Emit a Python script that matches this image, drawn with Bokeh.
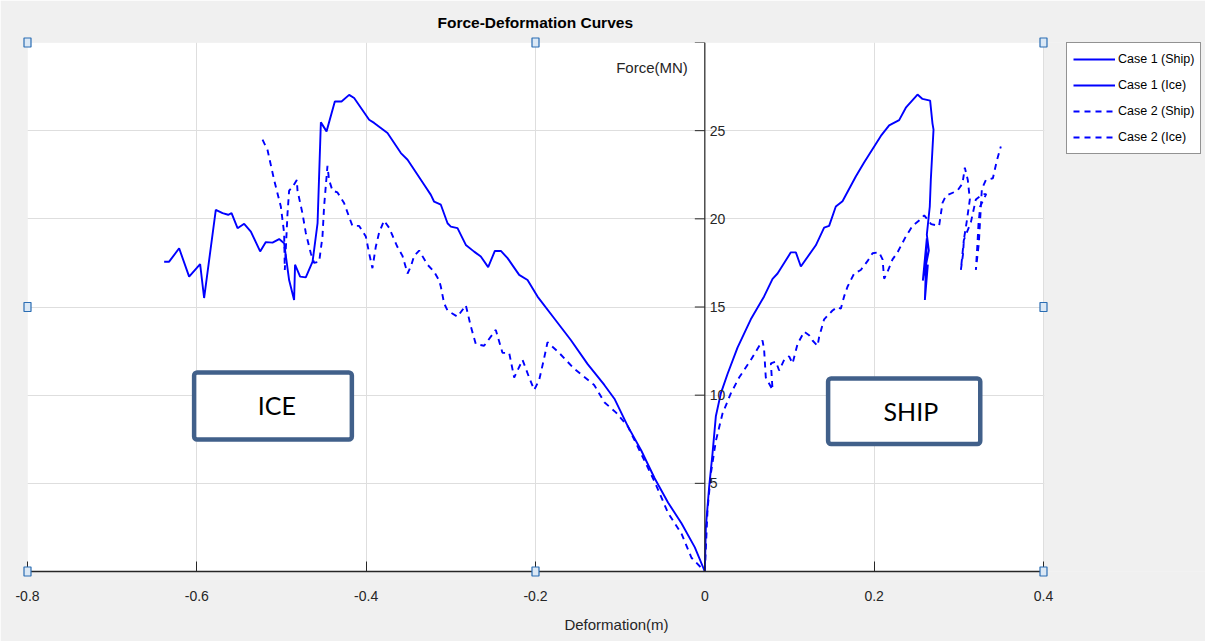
import numpy as np
from bokeh.plotting import figure
from bokeh.models import (Range1d, FixedTicker, Legend, LegendItem, Label, BoxAnnotation,
                          Span, Grid)
from bokeh.core.properties import value
from bokeh.embed import file_html
from bokeh.resources import INLINE

# ---------------- data ----------------
X_TICKS = [-0.8, -0.6, -0.4, -0.2, 0, 0.2, 0.4]
X_TICK_LABELS = ["-0.8", "-0.6", "-0.4", "-0.2", "0", "0.2", "0.4"]
Y_TICKS = [0, 5, 10, 15, 20, 25, 30]
Y_TICK_LABELS = ["", "5", "10", "15", "20", "25", ""]

SERIES_NAMES = ["Case 1 (Ship)", "Case 1 (Ice)", "Case 2 (Ship)", "Case 2 (Ice)"]

case1_ship_x = [0.0, 0.0012, 0.0051, 0.0091, 0.0130, 0.0189, 0.0268, 0.0386, 0.0543, 0.0700,
                0.0800, 0.0859, 0.1016, 0.1075, 0.1134, 0.1311, 0.1409, 0.1468, 0.1547, 0.1626,
                0.1783, 0.1881, 0.2079, 0.2177, 0.2295, 0.2374, 0.2512, 0.2571, 0.2661, 0.2689,
                0.2701, 0.2669, 0.2657, 0.2622, 0.2646, 0.2587, 0.2634, 0.2599, 0.2622, 0.2575,
                0.2610]
case1_ship_y = [0.0, 2.5, 4.8, 6.7, 8.8, 10.1, 11.2, 12.7, 14.3, 15.6,
                16.6, 16.9, 18.1, 18.1, 17.3, 18.5, 19.5, 19.6, 20.7, 21.0,
                22.4, 23.2, 24.7, 25.3, 25.6, 26.3, 27.05, 26.8, 26.7, 25.4,
                25.06, 22.2, 20.7, 19.1, 18.2, 16.8, 17.4, 15.4, 18.9, 16.5,
                17.7]

case1_ice_x = [-0.6386, -0.6327, -0.6209, -0.6091, -0.5961, -0.5914, -0.5776, -0.5696, -0.5630, -0.5590,
               -0.5519, -0.5441, -0.5362, -0.5252, -0.5185, -0.5106, -0.5028, -0.4969, -0.4910, -0.4851,
               -0.4840, -0.4780, -0.4713, -0.4633, -0.4574, -0.4535, -0.4468, -0.4370, -0.4291, -0.4201,
               -0.4142, -0.3965, -0.3906, -0.3748, -0.3590, -0.3511, -0.3315, -0.3236, -0.3197, -0.3118,
               -0.3039, -0.3000, -0.2921, -0.2823, -0.2725, -0.2646, -0.2559, -0.2480, -0.2409, -0.2330,
               -0.2193, -0.2094, -0.1976, -0.1780, -0.1583, -0.1384, -0.1187, -0.1068, -0.0909, -0.0751,
               -0.0593, -0.0435, -0.0276, -0.0118, 0.0]
case1_ice_y = [17.57, 17.57, 18.33, 16.72, 17.43, 15.51, 20.51, 20.32, 20.23, 20.32,
               19.47, 19.72, 19.28, 18.15, 18.68, 18.65, 18.85, 18.62, 16.53, 15.40,
               17.40, 16.72, 16.68, 17.57, 19.75, 25.47, 24.96, 26.65, 26.65, 27.03,
               26.85, 25.62, 25.44, 24.87, 23.73, 23.35, 21.93, 21.36, 20.97, 20.80,
               19.75, 19.56, 19.47, 18.52, 18.14, 17.86, 17.26, 18.18, 18.18, 17.77,
               16.82, 16.53, 15.59, 14.36, 13.13, 11.76, 10.58, 9.80, 8.23, 6.86,
               5.29, 3.91, 2.74, 1.37, 0.0]

case2_ship_x = [0.0, 0.0032, 0.0071, 0.0130, 0.0209, 0.0307, 0.0405, 0.0543, 0.0681, 0.0700,
                0.0720, 0.0800, 0.0780, 0.0839, 0.0878, 0.0937, 0.0996, 0.1036, 0.1095, 0.1173,
                0.1232, 0.1272, 0.1331, 0.1350, 0.1409, 0.1468, 0.1508, 0.1567, 0.1606, 0.1645,
                0.1685, 0.1764, 0.1842, 0.1921, 0.1981, 0.2059, 0.2099, 0.2118, 0.2158, 0.2217,
                0.2276, 0.2374, 0.2453, 0.2531, 0.2591, 0.2673, 0.2767, 0.2807, 0.2846, 0.2984,
                0.3043, 0.3071, 0.3106, 0.3130, 0.3095, 0.3059, 0.3051, 0.3024, 0.3059, 0.3142,
                0.3201, 0.3284, 0.3323, 0.3252, 0.3232, 0.3220, 0.3201, 0.3236, 0.3272, 0.3319,
                0.3402, 0.3449, 0.3496]
case2_ship_y = [0.0, 3.5, 5.55, 7.4, 8.96, 10.1, 11.0, 12.0, 13.1, 12.6,
                11.0, 10.3, 11.8, 11.9, 11.4, 12.0, 12.2, 11.8, 12.9, 13.6,
                13.4, 13.1, 12.8, 13.3, 14.3, 14.6, 14.8, 15.0, 14.9, 15.6,
                16.15, 16.9, 17.1, 17.6, 18.05, 18.1, 17.7, 16.6, 17.0, 17.7,
                18.1, 19.0, 19.6, 19.9, 20.2, 19.7, 19.6, 20.9, 21.3, 21.6,
                22.0, 22.9, 22.2, 21.1, 19.9, 18.8, 18.05, 17.1, 18.8, 19.8,
                21.1, 21.4, 21.4, 20.7, 19.7, 18.6, 17.1, 18.6, 21.7, 22.2,
                22.3, 23.3, 24.1]

case2_ice_x = [-0.5224, -0.5165, -0.5087, -0.5008, -0.4969, -0.4961, -0.4929, -0.4910, -0.4870, -0.4819,
               -0.4811, -0.4752, -0.4713, -0.4654, -0.4615, -0.4555, -0.4516, -0.4497, -0.4457, -0.4438,
               -0.4398, -0.4339, -0.4261, -0.4201, -0.4162, -0.4083, -0.4004, -0.3965, -0.3926, -0.3887,
               -0.3848, -0.3789, -0.3730, -0.3630, -0.3571, -0.3511, -0.3472, -0.3433, -0.3374, -0.3276,
               -0.3197, -0.3138, -0.3118, -0.3079, -0.3039, -0.2921, -0.2823, -0.2764, -0.2705, -0.2607,
               -0.2469, -0.2390, -0.2311, -0.2252, -0.2153, -0.2075, -0.2016, -0.1957, -0.1898, -0.1858,
               -0.1721, -0.1544, -0.1307, -0.1187, -0.1048, -0.0909, -0.0593, -0.0435, -0.0276, -0.0158,
               0.0]
case2_ice_y = [24.49, 23.9, 22.2, 20.7, 19.2, 17.1, 20.3, 21.6, 21.8, 22.2,
               21.6, 20.3, 19.2, 18.05, 17.5, 17.57, 19.0, 20.7, 23.0, 22.2,
               21.6, 21.5, 20.9, 20.1, 19.6, 19.6, 19.0, 18.05, 17.2, 18.4,
               19.2, 19.9, 19.5, 18.4, 17.9, 16.9, 17.3, 17.9, 18.2, 17.4,
               17.0, 16.5, 16.15, 15.2, 14.8, 14.45, 15.1, 13.9, 12.9, 12.8,
               13.7, 12.4, 12.4, 11.0, 12.0, 11.0, 10.3, 10.85, 12.1, 13.0,
               12.4, 11.5, 10.58, 9.6, 9.01, 8.23, 5.09, 3.33, 2.15, 0.78,
               0.0]

# ---------------- layout constants ----------------
W, H = 1205, 641
FRAME_L, FRAME_T, FRAME_B = 27, 42, 70       # borders in px
AXIS_RIGHT_PX = 1043                         # where x = 0.4 sits
X0, X1 = -0.8, 0.4
Y0, Y1 = 0, 30
# the frame runs to the right edge of the page (room for the legend);
# extend the x range so that X1 still sits at AXIS_RIGHT_PX
X_VIEW_END = X0 + (X1 - X0) * (W - FRAME_L) / (AXIS_RIGHT_PX - FRAME_L)

FONT = "Liberation Sans"
AX_COLOR = "#262626"
GRID_COLOR = "#dedede"
BG_GRAY = "#f0f0f0"
BLUE = "#0000ff"
LW = 1.9

p = figure(width=W, height=H, output_backend="svg", toolbar_location=None,
           x_range=Range1d(X0, X_VIEW_END), y_range=Range1d(Y0, Y1),
           y_axis_location=None,
           min_border_left=FRAME_L, min_border_right=0, min_border_top=FRAME_T,
           min_border_bottom=FRAME_B)
p.background_fill_color = BG_GRAY
p.border_fill_color = BG_GRAY
p.outline_line_color = None

# white axes box (MATLAB axes), drawn below everything
p.add_layout(BoxAnnotation(left=X0, right=X1, fill_color="white", fill_alpha=1,
                           line_color=GRID_COLOR, line_width=1, level="image"))

# title (left aligned + offset so it is centred over the axes box)
p.title.text = "Force-Deformation Curves"
p.title.align = "left"
p.title.offset = 410
p.title.vertical_align = "middle"
p.title.standoff = 22
p.title.text_font = FONT
p.title.text_font_size = "15.5px"
p.title.text_font_style = "bold"
p.title.text_color = "#000000"

# x axis
xa = p.xaxis[0]
xa.bounds = (X0, X1)
xa.ticker = FixedTicker(ticks=X_TICKS)
xa.major_label_overrides = {t: l for t, l in zip(X_TICKS, X_TICK_LABELS)}
xa.major_tick_in = 10
xa.major_tick_out = 0
xa.minor_tick_line_color = None
xa.axis_line_color = AX_COLOR
xa.axis_line_width = 1.5
xa.major_tick_line_color = AX_COLOR
xa.major_label_standoff = 19
xa.major_label_text_font = FONT
xa.major_label_text_font_size = "14px"
xa.major_label_text_color = AX_COLOR
xa.axis_label = "Deformation(m)"
xa.axis_label_text_font = FONT
xa.axis_label_text_font_size = "15px"
xa.axis_label_text_font_style = "normal"
xa.axis_label_text_color = AX_COLOR
xa.axis_label_standoff = 12
p.xgrid.grid_line_color = GRID_COLOR

# horizontal grid, limited to the axes box
ygrid = Grid(dimension=1, ticker=FixedTicker(ticks=Y_TICKS), grid_line_color=GRID_COLOR)
if "cross_bounds" in Grid.properties():
    ygrid.cross_bounds = (X0, X1)
p.add_layout(ygrid)
# gray cover for anything of the grid that reaches past the axes box
p.add_layout(BoxAnnotation(left=X1 + 0.0012, fill_color=BG_GRAY, fill_alpha=1,
                           line_color=None, level="underlay"))

# curves
r_s1 = p.line(case1_ship_x, case1_ship_y, line_color=BLUE, line_width=LW)
r_i1 = p.line(case1_ice_x, case1_ice_y, line_color=BLUE, line_width=LW)
r_s2 = p.line(case2_ship_x, case2_ship_y, line_color=BLUE, line_width=LW, line_dash="6 5")
r_i2 = p.line(case2_ice_x, case2_ice_y, line_color=BLUE, line_width=LW, line_dash="6 5")

# y axis through x = 0 (MATLAB "origin" axis): line, inward ticks, labels to the right
p.add_layout(Span(location=0, dimension="height", line_color=AX_COLOR, line_width=1.2))
p.ray(x=[0] * len(Y_TICKS), y=Y_TICKS, length=10, length_units="screen", angle=np.pi,
      line_color=AX_COLOR, line_width=1)
p.text(x=[0] * len(Y_TICKS), y=Y_TICKS, text=Y_TICK_LABELS, x_offset=5,
       text_align="left", text_baseline="middle", text_font=value(FONT),
       text_font_size="14px", text_color=AX_COLOR)

legend = Legend(items=[LegendItem(label=SERIES_NAMES[0], renderers=[r_s1]),
                       LegendItem(label=SERIES_NAMES[1], renderers=[r_i1]),
                       LegendItem(label=SERIES_NAMES[2], renderers=[r_s2]),
                       LegendItem(label=SERIES_NAMES[3], renderers=[r_i2])],
                location=(1039, 417))
legend.border_line_color = AX_COLOR
legend.border_line_width = 1
legend.background_fill_color = "white"
legend.background_fill_alpha = 1
legend.label_text_font = FONT
legend.label_text_font_size = "12.5px"
legend.label_text_color = "#000000"
legend.glyph_width = 42
legend.glyph_height = 20
legend.label_height = 20
legend.label_standoff = 3
legend.spacing = 6
legend.padding = 6
legend.margin = 0
p.add_layout(legend)

# y label
p.add_layout(Label(x=0, y=Y1, x_offset=-17, y_offset=-25, text="Force(MN)",
                   text_align="right", text_baseline="middle", text_font=FONT,
                   text_font_size="15px", text_color=AX_COLOR))

# annotation boxes
BOX_COLOR = "#41608a"
p.add_layout(BoxAnnotation(left=-0.6032, right=-0.4169, bottom=7.48, top=11.29,
                           fill_color="white", fill_alpha=1, line_color=BOX_COLOR,
                           line_width=4.5, line_alpha=1, border_radius=3))
p.add_layout(BoxAnnotation(left=0.1456, right=0.3253, bottom=7.23, top=10.95,
                           fill_color="white", fill_alpha=1, line_color=BOX_COLOR,
                           line_width=4.5, line_alpha=1, border_radius=3))
p.add_layout(Label(x=-0.5055, y=9.43, text="ICE", text_align="center", text_baseline="middle",
                   text_font="Lato", text_font_size="25px", text_color="#000000"))
p.add_layout(Label(x=0.2433, y=9.11, text="SHIP", text_align="center", text_baseline="middle",
                   text_font="Lato", text_font_size="25px", text_color="#000000"))

# selection handles around the axes box
XM, YM = (X0 + X1) / 2, (Y0 + Y1) / 2
hx = [X0, XM, X1, X0, X1, X0, XM, X1]
hy = [Y1, Y1, Y1, YM, YM, Y0, Y0, Y0]
p.rect(hx, hy, width=7, height=9, width_units="screen", height_units="screen",
       fill_color="#dbe8f5", line_color="#2a6db3", line_width=1.2, level="overlay")

open("out.html", "w").write(file_html(p, INLINE))
